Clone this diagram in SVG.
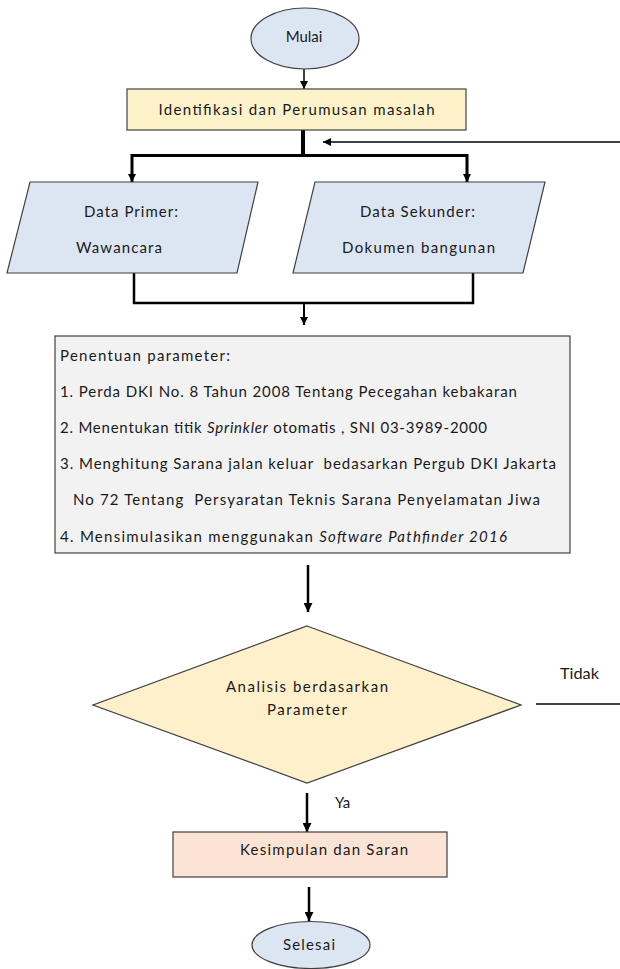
<svg xmlns="http://www.w3.org/2000/svg" width="620" height="969" viewBox="0 0 620 969">
<defs>
<style>
.t{font-family:Lato,"Liberation Sans",sans-serif;font-size:15px;fill:#1a1a1a}
.i{font-style:italic}
.shape{stroke:#404040;stroke-width:1.2}
.ln{fill:none;stroke:#000;stroke-linecap:butt}
</style>
<marker id="ah" viewBox="0 0 10 10" refX="10" refY="5" markerWidth="8" markerHeight="8" markerUnits="userSpaceOnUse" orient="auto">
<path d="M0,0 L10,5 L0,10 z" fill="#000"/>
</marker>
<marker id="ahs" viewBox="0 0 10 10" refX="10" refY="5" markerWidth="9" markerHeight="9" markerUnits="userSpaceOnUse" orient="auto">
<path d="M0,0 L10,5 L0,10 z" fill="#000"/>
</marker>
</defs>
<rect width="620" height="969" fill="#fff"/>

<g id="connectors">
<line class="ln" x1="304" y1="69" x2="304" y2="89" stroke-width="1.5" marker-end="url(#ah)"/>
<line class="ln" x1="303" y1="130" x2="303" y2="157" stroke-width="4"/>
<polyline class="ln" points="132,182 132,155.5 467,155.5 467,182" stroke-width="3"/>
<line class="ln" x1="132" y1="170" x2="132" y2="182" stroke-width="2" marker-end="url(#ah)"/>
<line class="ln" x1="467" y1="170" x2="467" y2="182" stroke-width="2" marker-end="url(#ah)"/>
<line class="ln" x1="620" y1="142" x2="323" y2="142" stroke-width="1.5" marker-end="url(#ah)"/>
<polyline class="ln" points="134,273 134,303 473,303 473,273" stroke-width="2.5"/>
<line class="ln" x1="304" y1="303" x2="304" y2="325" stroke-width="2" marker-end="url(#ah)"/>
<line class="ln" x1="308" y1="565" x2="308" y2="612" stroke-width="2.5" marker-end="url(#ahs)"/>
<line class="ln" x1="307" y1="793" x2="307" y2="832" stroke-width="2.5" marker-end="url(#ahs)"/>
<line class="ln" x1="309" y1="887" x2="309" y2="921" stroke-width="2.5" marker-end="url(#ahs)"/>
<line class="ln" x1="536" y1="704" x2="620" y2="704" stroke-width="1.5"/>
<text class="t" x="560" y="679" textLength="39" lengthAdjust="spacingAndGlyphs">Tidak</text>
<text class="t" x="335" y="808">Ya</text>
</g>

<g id="mulai">
<ellipse class="shape" cx="305" cy="38.5" rx="54" ry="30.5" fill="#dce6f2"/>
<text class="t" x="304" y="42" text-anchor="middle">Mulai</text>
</g>

<g id="identifikasi">
<rect class="shape" x="127" y="89" width="339" height="41" fill="#fef2cb"/>
<text class="t" x="296.5" y="115" text-anchor="middle" textLength="276" lengthAdjust="spacing">Identifikasi dan Perumusan masalah</text>
</g>

<g id="data-primer">
<polygon class="shape" points="30,182 258,182 237,273 7,273" fill="#dce6f2"/>
<text class="t" x="84" y="217" textLength="94" lengthAdjust="spacing">Data Primer:</text>
<text class="t" x="76" y="253" textLength="86" lengthAdjust="spacing">Wawancara</text>
</g>

<g id="data-sekunder">
<polygon class="shape" points="315,182 545,182 523,273 293,273" fill="#dce6f2"/>
<text class="t" x="360" y="217" textLength="115" lengthAdjust="spacing">Data Sekunder:</text>
<text class="t" x="342" y="253" textLength="153" lengthAdjust="spacing">Dokumen bangunan</text>
</g>

<g id="parameter">
<rect class="shape" x="55" y="336" width="515" height="217" fill="#f2f2f2"/>
<text class="t" x="60" y="361" textLength="170" lengthAdjust="spacing">Penentuan parameter:</text>
<text class="t" x="60" y="397" textLength="457" lengthAdjust="spacing">1. Perda DKI No. 8 Tahun 2008 Tentang Pecegahan kebakaran</text>
<text class="t" x="60" y="433" textLength="427" lengthAdjust="spacing">2. Menentukan titik <tspan class="i">Sprinkler</tspan> otomatis , SNI 03-3989-2000</text>
<text class="t" x="60" y="469" textLength="496" lengthAdjust="spacing" xml:space="preserve">3. Menghitung Sarana jalan keluar  bedasarkan Pergub DKI Jakarta</text>
<text class="t" x="73" y="505" textLength="467" lengthAdjust="spacing" xml:space="preserve">No 72 Tentang  Persyaratan Teknis Sarana Penyelamatan Jiwa</text>
<text class="t" x="60" y="542" textLength="447" lengthAdjust="spacing">4. Mensimulasikan menggunakan <tspan class="i">Software Pathfinder 2016</tspan></text>
</g>

<g id="analisis">
<polygon class="shape" points="307,626 521,705 307,783 93,705" fill="#fef0ca"/>
<text class="t" x="226" y="692" textLength="162" lengthAdjust="spacing">Analisis berdasarkan</text>
<text class="t" x="267" y="715" textLength="80" lengthAdjust="spacing">Parameter</text>
</g>

<g id="kesimpulan">
<rect class="shape" x="173" y="832" width="274" height="45" fill="#fbe4d5"/>
<text class="t" x="240" y="855" textLength="168" lengthAdjust="spacing">Kesimpulan dan Saran</text>
</g>

<g id="selesai">
<ellipse class="shape" cx="311" cy="945" rx="59" ry="23.5" fill="#dce6f2"/>
<text class="t" x="283" y="950" textLength="52" lengthAdjust="spacing">Selesai</text>
</g>
</svg>
